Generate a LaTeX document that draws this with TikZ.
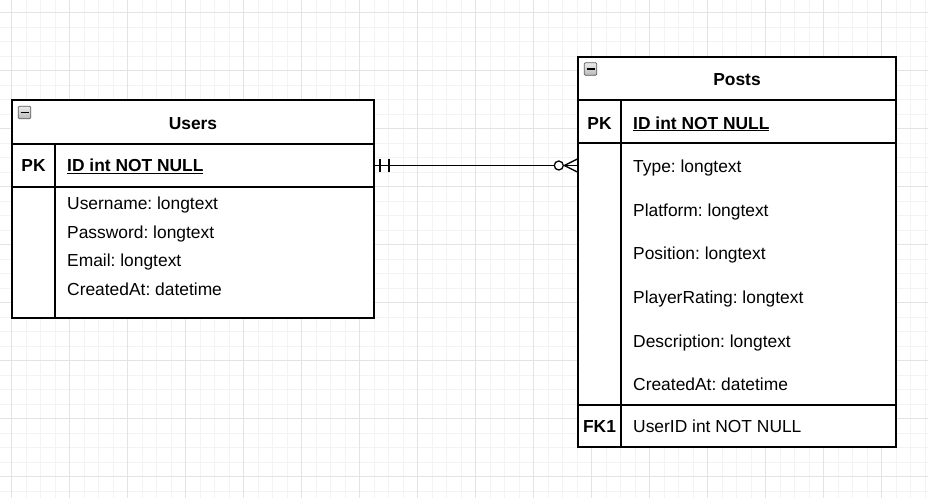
\documentclass[tikz,border=0pt]{standalone}
\usepackage{fontspec}
\setmainfont{Liberation Sans}
\frenchspacing
\definecolor{gridminor}{HTML}{F3F3F3}
\definecolor{gridmajor}{HTML}{E3E3E3}
\tikzset{
  tbl/.style={draw=black, line width=1.4pt, inner sep=0, fill=none},
  sep/.style={draw=black, line width=1.4pt},
  attr/.style={anchor=base west, inner sep=0, font=\fontsize{17.4}{20}\selectfont},
  keytxt/.style={anchor=base, inner sep=0, font=\fontsize{17.4}{20}\selectfont\bfseries},
  titletxt/.style={anchor=base, inner sep=0, font=\fontsize{17.4}{20}\selectfont\bfseries},
  conn/.style={draw=black, line width=1.3pt},
  icon/.style={draw=gray!70!black, line width=0.7pt, rounded corners=1.2pt, top color=gray!15, bottom color=gray!55, minimum width=12.5pt, minimum height=12.5pt, inner sep=0},
}
\begin{document}
\begin{tikzpicture}[x=1pt,y=-1pt]
\useasboundingbox (0,0) rectangle (928,498);
\fill[white] (0,0) rectangle (928,498);
% grid
\foreach \k in {0,...,64} {
  \draw[gridminor, line width=0.7pt] ({11.7-14.5+14.5*\k},0) -- ({11.7-14.5+14.5*\k},498);
}
\foreach \k in {0,...,35} {
  \draw[gridminor, line width=0.7pt] (0,{12.5-14.5+14.5*\k}) -- (928,{12.5-14.5+14.5*\k});
}
\foreach \k in {0,...,16} {
  \draw[gridmajor, line width=0.8pt] ({11.7+58*\k},0) -- ({11.7+58*\k},498);
}
\foreach \k in {0,...,8} {
  \draw[gridmajor, line width=0.8pt] (0,{12.5+58*\k}) -- (928,{12.5+58*\k});
}

% ---------- Users table ----------
\node[tbl, fill=white, minimum width=362pt, minimum height=218pt] (users) at (193,209) {};
\draw[sep] (12,144) -- (374,144);
\draw[sep] (12,187) -- (374,187);
\draw[sep] (55,144) -- (55,318);
\node[icon] (usersicon) at (24.5,112.5) {};
\draw[black, line width=1.3pt] (20.5,112.5) -- (28.5,112.5);
\node[titletxt] (userstitle) at (193,129.3) {Users};
\coordinate (usersPK) at (374,165.5);
\node[keytxt] (userspklbl) at (33.5,171.7) {PK};
\node[attr, font=\fontsize{17.4}{20}\selectfont\bfseries] (usersid) at (67,171.7) {\underline{ID int NOT NULL}};
\node[attr] (uname) at (67,209) {Username: longtext};
\node[attr] (upass) at (67,238) {Password: longtext};
\node[attr] (uemail) at (67,266.8) {Email: longtext};
\node[attr] (ucreated) at (67,295.5) {CreatedAt: datetime};

% ---------- Posts table ----------
\node[tbl, fill=white, minimum width=318pt, minimum height=390pt] (posts) at (737,252) {};
\draw[sep] (578,100) -- (896,100);
\draw[sep] (578,143) -- (896,143);
\draw[sep] (578,405) -- (896,405);
\draw[sep] (621,100) -- (621,447);
\node[icon] (postsicon) at (590.5,69) {};
\draw[black, line width=1.3pt] (586.5,69) -- (594.5,69);
\node[titletxt] (poststitle) at (737,85) {Posts};
\node[keytxt] (postspklbl) at (599.5,129) {PK};
\node[attr, font=\fontsize{17.4}{20}\selectfont\bfseries] (postsid) at (633,129) {\underline{ID int NOT NULL}};
\node[attr] (ptype) at (633,172.5) {Type: longtext};
\node[attr] (pplat) at (633,216.2) {Platform: longtext};
\node[attr] (ppos) at (633,259.8) {Position: longtext};
\node[attr] (prating) at (633,303.4) {PlayerRating: longtext};
\node[attr] (pdesc) at (633,347) {Description: longtext};
\node[attr] (pcreated) at (633,390.4) {CreatedAt: datetime};
\node[keytxt] (fklbl) at (599.5,432.7) {FK1};
\node[attr] (puserid) at (633,432.7) {UserID int NOT NULL};

% ---------- relationship ----------
\coordinate (postsEnd) at (usersPK -| posts.west);
\draw[conn] (usersPK) -- ([xshift=-18.5pt]postsEnd);
\draw[conn] ([xshift=-13pt]postsEnd) -- (postsEnd);
% one and only one
\draw[conn] ([xshift=6pt,yshift=-6.5pt]usersPK) -- ([xshift=6pt,yshift=6.5pt]usersPK);
\draw[conn] ([xshift=15pt,yshift=-6.5pt]usersPK) -- ([xshift=15pt,yshift=6.5pt]usersPK);
% zero or many
\draw[conn, fill=white] ([xshift=-18.5pt]postsEnd) circle (4.5pt);
\draw[conn] ([xshift=-13pt]postsEnd) -- ([yshift=-6.5pt]postsEnd);
\draw[conn] ([xshift=-13pt]postsEnd) -- ([yshift=6.5pt]postsEnd);
\end{tikzpicture}
\end{document}
